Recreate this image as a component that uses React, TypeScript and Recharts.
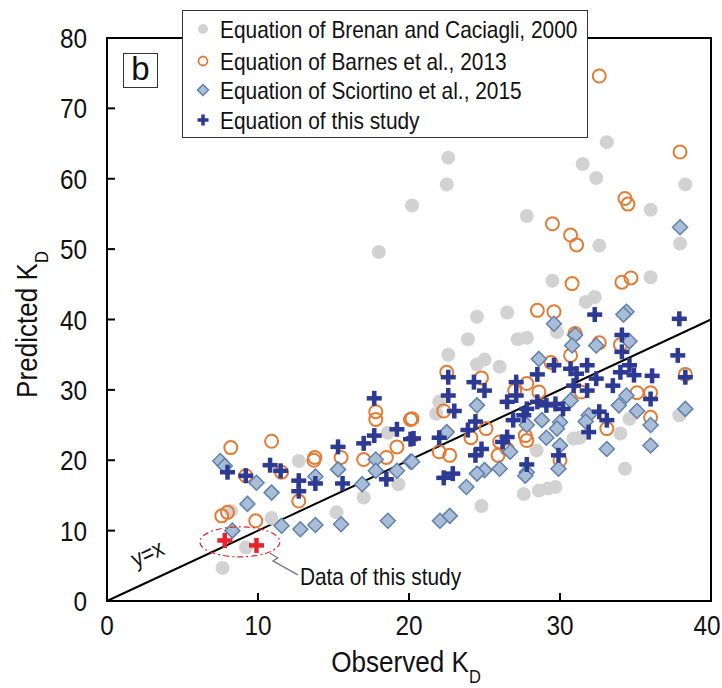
import React from "react";
import { ScatterChart, Scatter, XAxis, YAxis, ReferenceLine, ReferenceArea } from "recharts";

const FONT = "'Liberation Sans', Arial, sans-serif";
const SQ = 0.87; // horizontal squeeze, the source uses a narrow face

const xTicks = [0, 10, 20, 30, 40];
const yTicks = [0, 10, 20, 30, 40, 50, 60, 70, 80];

const seriesNames = [
  "Equation of Brenan and Caciagli, 2000",
  "Equation of Barnes et al., 2013",
  "Equation of Sciortino et al., 2015",
  "Equation of this study",
];

const brenan = [
  [7.65, 4.7], [9.2, 7.6], [8.2, 12.8], [12.7, 19.9], [10.9, 11.8], [15.2, 12.6], [17.0, 14.7],
  [18.6, 23.9], [19.3, 16.6], [22.6, 63.0], [22.5, 59.2], [20.2, 56.2], [33.1, 65.2], [31.5, 62.1],
  [32.4, 60.1], [36.0, 55.6], [27.8, 54.7], [32.6, 50.5], [38.3, 59.2], [37.95, 50.8], [29.5, 45.5],
  [36.0, 46.0], [18.0, 49.6], [31.7, 42.5], [32.3, 43.2], [24.5, 40.4], [26.5, 41.0], [23.9, 37.2],
  [27.2, 37.2], [27.8, 37.4], [22.6, 35.0], [25.0, 34.3], [24.5, 33.6], [26.0, 33.3], [29.8, 38.2],
  [22.0, 28.3], [21.8, 26.6], [37.9, 26.4], [34.6, 25.9], [30.9, 23.1], [31.3, 23.2], [34.0, 23.8],
  [28.45, 21.4], [34.3, 18.8], [27.6, 15.2], [28.6, 15.7], [29.2, 16.0], [29.7, 16.2], [24.8, 13.5],
];

const barnes = [
  [8.2, 21.8], [7.6, 12.1], [7.98, 12.6], [9.85, 11.4], [9.19, 17.8], [10.9, 22.7], [11.56, 18.3],
  [13.76, 20.4], [13.7, 20.0], [12.7, 14.2], [15.5, 20.4], [17.0, 20.1], [17.8, 26.9], [17.8, 25.8],
  [18.5, 20.4], [19.2, 21.9], [20.1, 25.8], [32.6, 74.6], [37.95, 63.8], [34.3, 57.2], [34.5, 56.4],
  [29.5, 53.6], [30.7, 52.0], [31.1, 50.6], [30.8, 45.1], [34.1, 45.3], [34.7, 45.9], [28.5, 41.3],
  [29.6, 41.1], [22.5, 32.5], [24.8, 31.7], [20.2, 25.9], [22.3, 27.0], [31.0, 38.0], [32.6, 36.7],
  [34.0, 36.4], [30.7, 34.9], [29.4, 33.9], [28.6, 29.7], [27.8, 30.9], [27.0, 29.9], [25.1, 24.5],
  [26.0, 22.6], [27.7, 23.5], [27.8, 22.8], [26.5, 21.6], [22.0, 21.2], [22.7, 20.7], [24.1, 23.2],
  [30.0, 20.0], [33.1, 24.5], [35.1, 29.6], [36.0, 29.6], [36.0, 26.1], [38.3, 32.2], [31.4, 29.7],
  [25.9, 20.7],
];

const sciortino = [
  [7.5, 19.9], [7.8, 19.2], [9.9, 16.8], [10.9, 15.4], [9.3, 13.8], [8.3, 10.0], [11.56, 10.7],
  [12.8, 10.2], [13.8, 10.8], [15.5, 10.9], [18.6, 11.4], [13.8, 17.7], [15.3, 18.7], [16.9, 16.6],
  [17.8, 20.1], [17.8, 18.5], [19.2, 18.5], [20.1, 19.8], [37.95, 53.1], [34.4, 41.1], [34.2, 40.7],
  [29.6, 39.4], [31.0, 37.8], [30.8, 36.3], [32.4, 36.3], [34.6, 36.9], [28.6, 34.4], [38.3, 27.3],
  [35.1, 27.0], [34.4, 29.2], [36.0, 25.0], [36.0, 22.1], [33.1, 21.6], [33.9, 27.8], [31.9, 26.4],
  [31.7, 25.5], [30.7, 28.5], [30.0, 25.4], [29.8, 24.5], [29.1, 23.2], [30.0, 22.1], [28.8, 25.7],
  [27.8, 25.0], [27.8, 18.3], [27.7, 17.8], [29.9, 18.8], [26.0, 18.8], [25.0, 18.6], [24.5, 18.1],
  [23.8, 16.2], [22.5, 24.0], [20.2, 19.8], [24.5, 27.8], [26.7, 21.2], [22.05, 11.4], [22.7, 12.1],
];

const thisStudy = [
  [7.98, 18.3], [9.19, 17.8], [10.8, 19.3], [11.5, 18.5], [12.7, 17.1], [12.7, 15.6], [13.8, 16.7],
  [15.3, 21.9], [15.6, 16.7], [17.0, 22.4], [17.7, 28.8], [17.7, 23.5], [18.5, 17.3], [19.2, 24.4],
  [20.1, 23.0], [32.3, 40.7], [37.9, 40.1], [34.1, 37.8], [34.1, 35.4], [37.8, 34.9], [38.3, 31.8],
  [36.1, 32.0], [36.0, 28.7], [22.6, 31.8], [22.6, 29.2], [24.3, 31.1], [25.0, 29.9], [23.0, 27.0],
  [22.0, 23.2], [20.3, 23.1], [24.4, 25.5], [23.9, 24.3], [24.8, 21.6], [24.4, 20.7], [22.3, 17.5],
  [22.9, 18.1], [26.5, 23.3], [26.2, 22.6], [27.8, 19.4], [29.9, 20.7], [31.9, 24.0], [32.6, 26.9],
  [33.1, 25.7], [27.1, 31.1], [28.5, 32.2], [29.6, 33.5], [30.7, 33.0], [31.1, 32.3], [31.8, 33.5],
  [32.4, 31.6], [34.0, 32.5], [34.6, 33.5], [34.9, 32.1], [26.5, 28.3], [27.1, 29.2], [27.8, 27.3],
  [28.5, 28.3], [29.1, 27.8], [29.7, 28.0], [30.2, 27.3], [30.9, 30.6], [31.8, 29.9], [33.5, 30.6],
  [26.9, 25.7], [27.6, 26.4],
];

// the two measured points of this study (red)
const ownData = [[7.8, 8.6], [9.9, 7.9]];

// annotation anchors (data units)
const calloutAt = [[8.8, 8.4]];
const lineLabelAt = [[2.9, 5.7]];

const pts = (arr: number[][]) => arr.map(([x, y]) => ({ x, y }));

const GRAY = "#d2d2d2";
const ORANGE = "#e37b35";
const DIA_FILL = "#a9bdd6";
const DIA_STROKE = "#5f80ad";
const NAVY = "#2d3a94";
const RED = "#e5232b";

const Dot = ({ cx, cy, r = 7 }: any) => <circle cx={cx} cy={cy} r={r} fill={GRAY} />;
const Ring = ({ cx, cy, r = 6.5, w = 2 }: any) => (
  <circle cx={cx} cy={cy} r={r} fill="none" stroke={ORANGE} strokeWidth={w} />
);
const Diamond = ({ cx, cy, s = 7.5 }: any) => (
  <polygon
    points={`${cx},${cy - s} ${cx + s},${cy} ${cx},${cy + s} ${cx - s},${cy}`}
    fill={DIA_FILL}
    stroke={DIA_STROKE}
    strokeWidth={1.5}
  />
);
const Cross = ({ cx, cy, size = 15, t = 4.5, color = NAVY }: any) => (
  <g fill={color}>
    <rect x={cx - size / 2} y={cy - t / 2} width={size} height={t} />
    <rect x={cx - t / 2} y={cy - size / 2} width={t} height={size} />
  </g>
);

const Callout = ({ cx, cy }: any) => (
  <g>
    <ellipse cx={cx} cy={cy} rx={40} ry={15} fill="none" stroke={RED} strokeWidth={1.2} strokeDasharray="6 3 2 3" />
    <polyline
      points={`${cx + 30},${cy + 11} ${cx + 38},${cy + 16} ${cx + 33},${cy + 19} ${cx + 58},${cy + 33}`}
      fill="none"
      stroke="#777"
      strokeWidth={1.2}
    />
    <g transform={`translate(${cx + 60},${cy + 43}) scale(${SQ},1)`}>
      <text x={0} y={0} fontFamily={FONT} fontSize={24} fill="#111">Data of this study</text>
    </g>
  </g>
);

const LineLabel = ({ cx, cy }: any) => (
  <g transform={`translate(${cx},${cy}) rotate(-25) scale(${SQ},1)`}>
    <text x={0} y={0} textAnchor="middle" fontFamily={FONT} fontSize={24} fill="#111">y=x</text>
  </g>
);

const XTick = ({ x, y, payload }: any) => (
  <g>
    {payload.value > 0 && payload.value < 40 && <line x1={x} y1={y} x2={x} y2={y - 8} stroke="#000" strokeWidth={2} />}
    <g transform={`translate(${payload.value === 40 ? x - 4 : x},${y + 34}) scale(${SQ},1)`}>
      <text x={0} y={0} textAnchor="middle" fontFamily={FONT} fontSize={28} fill="#111">{payload.value}</text>
    </g>
  </g>
);

const YTick = ({ x, y, payload }: any) => (
  <g>
    {payload.value > 0 && payload.value < 80 && <line x1={x} y1={y} x2={x + 8} y2={y} stroke="#000" strokeWidth={2} />}
    <g transform={`translate(${x - 20},${y + 10}) scale(${SQ},1)`}>
      <text x={0} y={0} textAnchor="end" fontFamily={FONT} fontSize={28} fill="#111">{payload.value}</text>
    </g>
  </g>
);

const XTitle = ({ viewBox }: any) => {
  const cx = viewBox.x + viewBox.width / 2 - 3;
  return (
    <g transform={`translate(${cx},${viewBox.y + 71}) scale(${SQ},1)`}>
      <text x={0} y={0} textAnchor="middle" fontFamily={FONT} fontSize={30} fill="#111">
        Observed K<tspan fontSize={19} dy={11}>D</tspan>
      </text>
    </g>
  );
};

const YTitle = ({ viewBox }: any) => {
  const cy = viewBox.y + viewBox.height / 2 + 5;
  return (
    <g transform={`translate(29,${cy}) rotate(-90) scale(${SQ},1)`}>
      <text x={0} y={0} textAnchor="middle" fontFamily={FONT} fontSize={30} fill="#111">
        Predicted K<tspan fontSize={19} dy={11}>D</tspan>
      </text>
    </g>
  );
};

const legendMarks = [
  (cx: number, cy: number) => <Dot cx={cx} cy={cy} r={5} />,
  (cx: number, cy: number) => <Ring cx={cx} cy={cy} r={4.5} w={1.8} />,
  (cx: number, cy: number) => <Diamond cx={cx} cy={cy} s={5.5} />,
  (cx: number, cy: number) => <Cross cx={cx} cy={cy} size={11} t={3.5} />,
];
const legendRows = [18, 50, 79, 109];

const LegendBox = () => (
  <div
    style={{
      position: "absolute",
      left: 174,
      top: 2,
      width: 406,
      height: 128,
      background: "#fff",
      border: "1.5px solid #333",
      boxSizing: "border-box",
    }}
  >
    <svg width={403} height={125}>
      {seriesNames.map((name, i) => (
        <g key={name}>
          {legendMarks[i](20, legendRows[i])}
          <g transform={`translate(37,${legendRows[i] + 8.5}) scale(${SQ},1)`}>
            <text x={0} y={0} fontFamily={FONT} fontSize={24} fill="#111">{name}</text>
          </g>
        </g>
      ))}
    </svg>
  </div>
);

export default function App() {
  return (
    <div style={{ position: "absolute", width: 714, height: 680 }}>
      <ScatterChart width={714} height={680} margin={{ top: 30, right: 11, bottom: 37, left: 29 }}>
        <XAxis
          type="number"
          dataKey="x"
          domain={[0, 40]}
          ticks={xTicks}
          height={50}
          axisLine={{ stroke: "#000", strokeWidth: 2 }}
          tickLine={false}
          tickSize={0}
          tickMargin={0}
          tick={<XTick />}
          interval={0}
          label={{ content: <XTitle /> }}
        />
        <YAxis
          type="number"
          dataKey="y"
          domain={[0, 80]}
          ticks={yTicks}
          width={70}
          axisLine={{ stroke: "#000", strokeWidth: 2 }}
          tickLine={false}
          tickSize={0}
          tickMargin={0}
          tick={<YTick />}
          interval={0}
          label={{ content: <YTitle /> }}
        />
        <ReferenceArea x1={0} x2={40} y1={0} y2={80} fill="none" stroke="#000" strokeWidth={2} ifOverflow="visible" />
        <Scatter data={pts(brenan)} shape={(p: any) => <Dot cx={p.cx} cy={p.cy} />} isAnimationActive={false} />
        <Scatter data={pts(barnes)} shape={(p: any) => <Ring cx={p.cx} cy={p.cy} />} isAnimationActive={false} />
        <Scatter data={pts(sciortino)} shape={(p: any) => <Diamond cx={p.cx} cy={p.cy} />} isAnimationActive={false} />
        <ReferenceLine segment={[{ x: 0, y: 0 }, { x: 40, y: 40 }]} stroke="#000" strokeWidth={2} />
        <Scatter data={pts(thisStudy)} shape={(p: any) => <Cross cx={p.cx} cy={p.cy} />} isAnimationActive={false} />
        <Scatter data={pts(ownData)} shape={(p: any) => <Cross cx={p.cx} cy={p.cy} color={RED} />} isAnimationActive={false} />
        <Scatter data={pts(calloutAt)} shape={(p: any) => <Callout cx={p.cx} cy={p.cy} />} isAnimationActive={false} />
        <Scatter data={pts(lineLabelAt)} shape={(p: any) => <LineLabel cx={p.cx} cy={p.cy} />} isAnimationActive={false} />
      </ScatterChart>
      <div
        style={{
          position: "absolute",
          left: 115,
          top: 45,
          width: 35,
          height: 35,
          border: "1.5px solid #333",
          boxSizing: "border-box",
          background: "#fff",
          fontFamily: FONT,
          fontSize: 33,
          lineHeight: "30px",
          textAlign: "center",
          color: "#111",
        }}
      >
        b
      </div>
      <LegendBox />
    </div>
  );
}
